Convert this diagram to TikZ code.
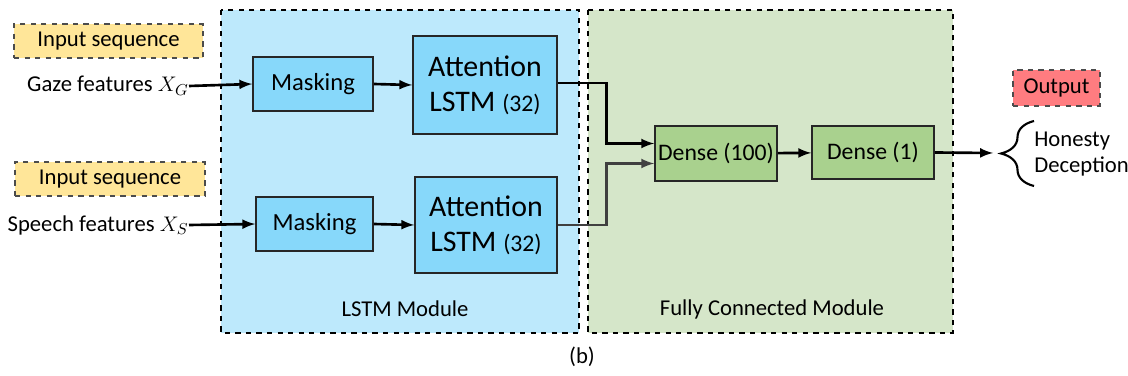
\documentclass[tikz,border=0pt]{standalone}
\usepackage{fontspec}
\setmainfont{Carlito}
\usetikzlibrary{calc,decorations.pathreplacing}

\definecolor{lstmbg}{HTML}{BDE9FC}
\definecolor{lstmbox}{HTML}{87D8FA}
\definecolor{fcbg}{HTML}{D5E6C9}
\definecolor{fcbox}{HTML}{A9D18E}
\definecolor{inbox}{HTML}{FFE699}
\definecolor{outbox}{HTML}{FF7C80}

\begin{document}
\begin{tikzpicture}[
    x=0.2mm,y=-0.2mm,
    >=latex,
    font=\fontsize{12.9}{15}\selectfont,
    arrow/.style={->, >=latex, line width=1.5pt, draw=black},
    module/.style={dashed, draw=black, line width=0.6pt},
    tag/.style={
        dashed,
        draw=black!70,
        line width=0.6pt,
        minimum height=6.8mm,
        inner sep=0pt
    },
    layer/.style={
        draw=black!85,
        line width=0.9pt,
        inner sep=0pt,
        font=\fontsize{14}{16}\selectfont
    },
    big/.style={font=\fontsize{17}{20}\selectfont, align=center}
]
    \useasboundingbox (0,0) rectangle (1128,376);

    % module backgrounds
    \draw[module, fill=lstmbg] (221,10) rectangle (579,333);
    \draw[module, fill=fcbg] (588,10) rectangle (953,333);
    \node (lstmname) at (405,309) {LSTM Module};
    \node (fcname) at (772,309) {Fully Connected Module};

    % inputs
    \node[tag, fill=inbox, minimum width=37.8mm] (in1) at (108.5,41) {Input sequence};
    \node[tag, fill=inbox, minimum width=38mm] (in2) at (110,179) {Input sequence};
    \node[anchor=east, inner sep=0pt] (gaze) at (189,86) {Gaze features $X_G$};
    \node[anchor=east, inner sep=0pt] (speech) at (189,225) {Speech features $X_S$};

    % lstm layers
    \node[layer, fill=lstmbox, minimum width=24mm, minimum height=10.8mm] (mask1) at (313,84) {Masking};
    \node[layer, fill=lstmbox, minimum width=23.4mm, minimum height=10.8mm] (mask2) at (314.5,224) {Masking};
    \node[layer, fill=lstmbox, minimum width=28.8mm, minimum height=19.6mm, big] (att1) at (485,85)
        {Attention\\LSTM {\fontsize{13.5}{15}\selectfont(32)}};
    \node[layer, fill=lstmbox, minimum width=28.4mm, minimum height=19.2mm, big] (att2) at (486,225)
        {Attention\\LSTM {\fontsize{13.5}{15}\selectfont(32)}};

    % dense layers
    \node[layer, fill=fcbox, minimum width=24.4mm, minimum height=11mm, font=\fontsize{13.5}{15}\selectfont] (d100) at (716,153.5) {Dense (100)};
    \node[layer, fill=fcbox, minimum width=24.4mm, minimum height=10.6mm, font=\fontsize{13.5}{15}\selectfont] (d1) at (873,152.5) {Dense (1)};

    % output
    \node[tag, fill=outbox, minimum width=17.4mm, minimum height=7.2mm] (out) at (1056.5,88) {Output};
    \node[anchor=west, align=left, inner sep=0pt] (classes) at (1034,154) {Honesty\\Deception};
    \coordinate (brtop) at (1034,121);
    \coordinate (brbot) at (1034,186);
    \coordinate (brtip) at (993,153);

    \draw[arrow] (gaze.east) -- (mask1.west);
    \draw[arrow] (speech.east) -- (mask2.west);
    \draw[arrow] (mask1.east) -- (att1.west);
    \draw[arrow] (mask2.east) -- (att2.west);

    \draw[arrow] ($(att1.east)+(0,-2)$) -- ++(49,0) |- ($(d100.west)+(0,-10)$);
    \draw[arrow, draw=black!75] (att2.east) -- ++(49,0) |- ($(d100.west)+(0,10)$);

    \draw[arrow] (d100) -- (d1);
    \draw[arrow] (d1.east) -- (brtip);

    % class brace
    \draw[line width=1.2pt, decorate, decoration={brace, amplitude=6.6mm}] (brbot) -- (brtop);

    \node (caption) at (582,357) {(b)};
\end{tikzpicture}
\end{document}
